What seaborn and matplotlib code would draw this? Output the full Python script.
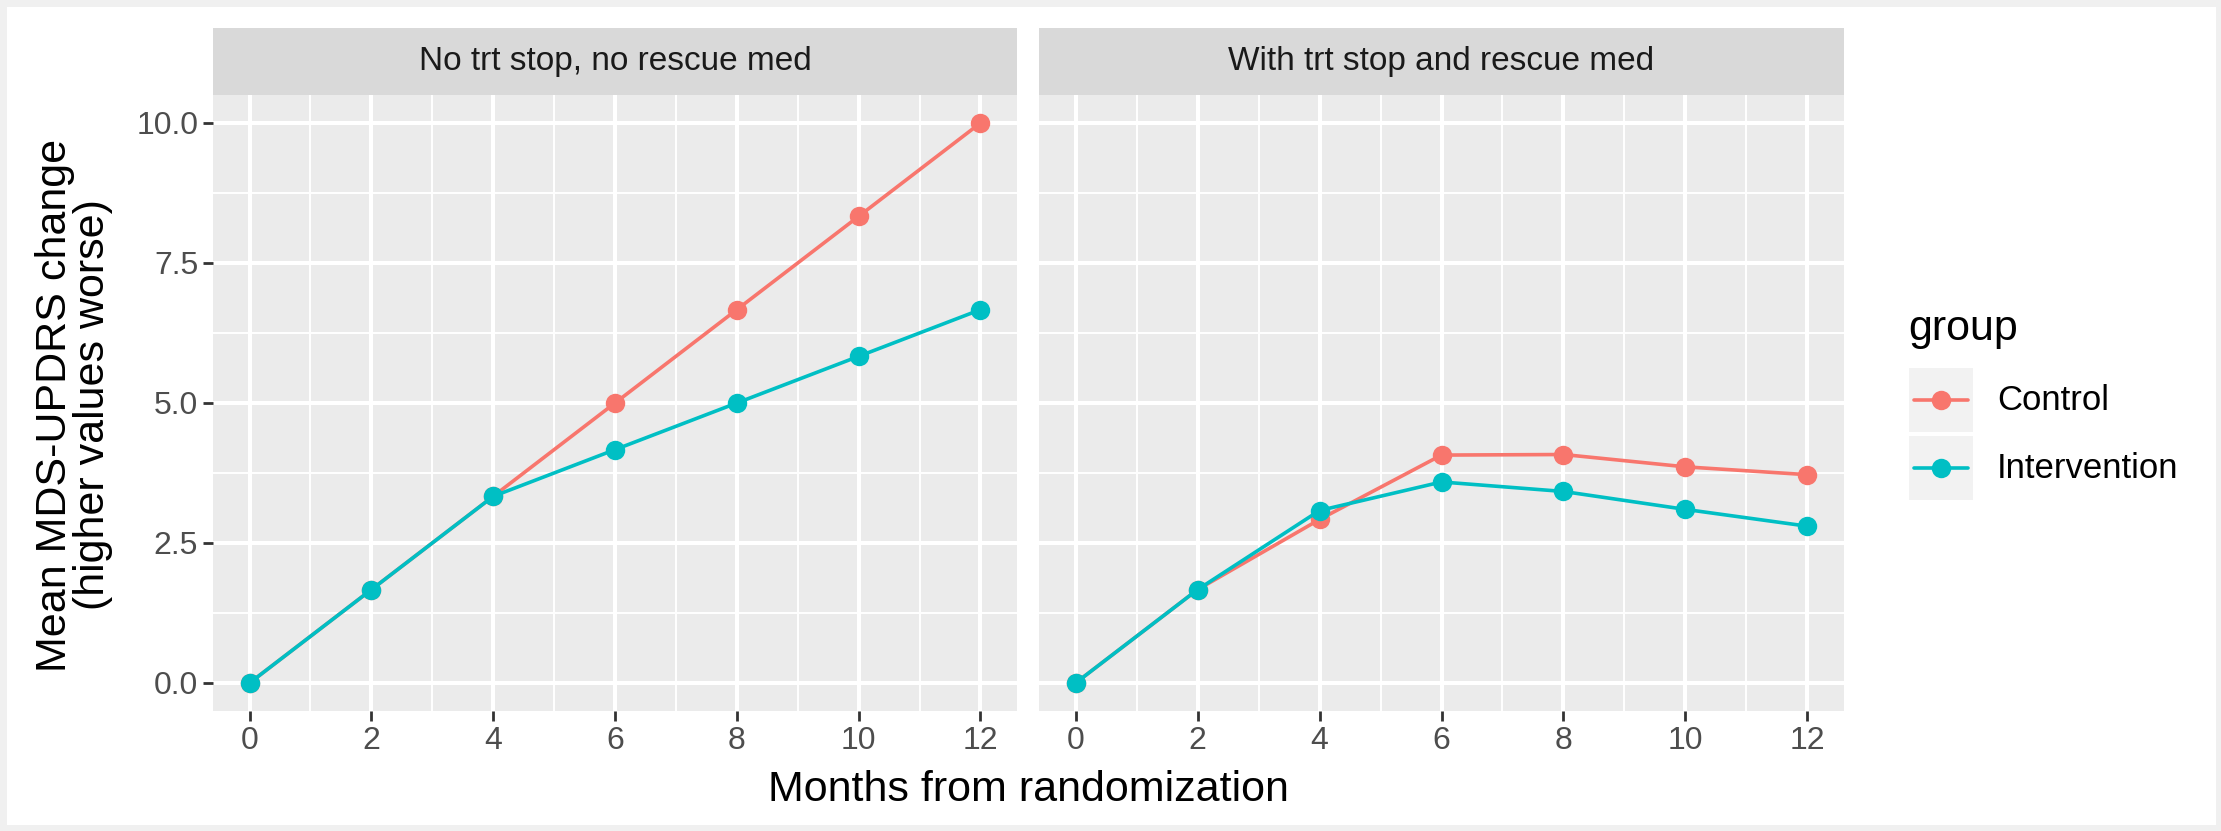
import matplotlib
matplotlib.use("Agg")
import matplotlib.pyplot as plt
from matplotlib import font_manager
from matplotlib.patches import Rectangle
from matplotlib.lines import Line2D
import numpy as np
import pandas as pd
import seaborn as sns

# ---------------- data ----------------
months = [0, 2, 4, 6, 8, 10, 12]
facets = ["No trt stop, no rescue med", "With trt stop and rescue med"]
groups = ["Control", "Intervention"]
ctrl_no_stop = [0.0, 1.667, 3.333, 5.0, 6.667, 8.333, 10.0]
intv_no_stop = [0.0, 1.667, 3.333, 4.167, 5.0, 5.833, 6.667]
ctrl_stop = [0.0, 1.667, 2.92, 4.07, 4.08, 3.86, 3.72]
intv_stop = [0.0, 1.667, 3.08, 3.59, 3.42, 3.10, 2.80]
x_ticks = [0, 2, 4, 6, 8, 10, 12]
y_ticks = [0.0, 2.5, 5.0, 7.5, 10.0]
y_tick_labels = ["0.0", "2.5", "5.0", "7.5", "10.0"]
x_label = "Months from randomization"
y_label = "Mean MDS-UPDRS change\n(higher values worse)"
legend_title = "group"

rows = []
for facet, series in zip(facets, [(ctrl_no_stop, intv_no_stop), (ctrl_stop, intv_stop)]):
    for g, vals in zip(groups, series):
        for m, v in zip(months, vals):
            rows.append({"facet": facet, "group": g, "month": m, "value": v})
df = pd.DataFrame(rows)

palette = {"Control": "#F8766D", "Intervention": "#00BFC4"}

# ---------------- fonts ----------------
sns.set_theme(style="white")


def has_font(name):
    try:
        font_manager.findfont(font_manager.FontProperties(family=name), fallback_to_default=False)
        return True
    except Exception:
        return False


main_font = "Liberation Sans" if has_font("Liberation Sans") else "DejaVu Sans"
plt.rcParams["font.family"] = [main_font, "DejaVu Sans"]
tick_size = 23
strip_size = 24
line_w = 2.6
marker_s = 14

# ---------------- figure ----------------
W, H = 2221, 831
dpi = 100
fig = plt.figure(figsize=(W / dpi, H / dpi), dpi=dpi)
fig.patch.set_facecolor("#F0F0F0")
fig.patches.append(Rectangle((7 / W, 6 / H), (W - 12) / W, (H - 13) / H,
                             transform=fig.transFigure, facecolor="white",
                             edgecolor="none", zorder=-10))


def px_box(x0, y0, x1, y1):
    return [x0 / W, 1 - y1 / H, (x1 - x0) / W, (y1 - y0) / H]


panel_top, panel_bot = 95, 711
strip_top = 28
ax_l = fig.add_axes(px_box(213, panel_top, 1017, panel_bot))
ax_r = fig.add_axes(px_box(1039, panel_top, 1844, panel_bot))

for i, (ax, facet) in enumerate(zip([ax_l, ax_r], facets)):
    ax.set_facecolor("#EBEBEB")
    sub = df[df["facet"] == facet]
    sns.lineplot(data=sub, x="month", y="value", hue="group", hue_order=groups,
                 palette=palette, marker="o", markersize=marker_s, markeredgewidth=0,
                 linewidth=line_w, ax=ax, legend=False, zorder=3)
    ax.set_xlim(-0.6, 12.6)
    ax.set_ylim(-0.5, 10.5)
    ax.set_xticks(x_ticks)
    ax.set_xticks(np.arange(1, 12, 2), minor=True)
    ax.set_yticks(y_ticks)
    ax.set_yticks(np.arange(1.25, 10.0, 2.5), minor=True)
    ax.grid(which="major", color="white", linewidth=2.9, zorder=1)
    ax.grid(which="minor", color="white", linewidth=1.4, zorder=1)
    ax.set_axisbelow(True)
    for s in ax.spines.values():
        s.set_visible(False)
    ax.set_xlabel("")
    ax.set_ylabel("")
    ax.tick_params(axis="both", which="major", length=7.2, width=2.0,
                   color="#333333", labelcolor="#4D4D4D", labelsize=tick_size,
                   bottom=True, left=(i == 0), pad=3.5)
    ax.tick_params(axis="both", which="minor", length=0)
    if i == 0:
        ax.set_yticklabels(y_tick_labels)
    else:
        ax.tick_params(axis="y", labelleft=False, left=False)
    # strip
    strip_h = (panel_top - strip_top) / (panel_bot - panel_top)
    ax.add_patch(Rectangle((0, 1), 1, strip_h, transform=ax.transAxes,
                           facecolor="#D9D9D9", edgecolor="none", clip_on=False))
    ax.text(0.5, 1 + strip_h / 2, facet, transform=ax.transAxes, ha="center",
            va="center", fontsize=strip_size, color="#1A1A1A")

# axis titles
fig.text(1028 / W, 1 - 790 / H, x_label, ha="center", va="center", fontsize=31,
         color="black")
fig.text(74 / W, 1 - 405 / H, y_label, ha="center", va="center", fontsize=31,
         rotation=90, color="black", linespacing=0.95, multialignment="center")

# legend
fig.text(1908 / W, 1 - 340 / H, legend_title, ha="left", va="baseline",
         fontsize=31, color="black")
for j, g in enumerate(groups):
    y0 = 368 + j * 68
    fig.patches.append(Rectangle((1909 / W, 1 - (y0 + 64) / H), 64 / W, 64 / H,
                                 transform=fig.transFigure, facecolor="#F2F2F2",
                                 edgecolor="none", zorder=1))
    yc = 1 - (y0 + 32) / H
    fig.lines.append(Line2D([1914 / W, 1968 / W], [yc, yc], transform=fig.transFigure,
                            color=palette[g], linewidth=line_w, zorder=2))
    fig.lines.append(Line2D([1941 / W], [yc], transform=fig.transFigure,
                            color=palette[g], marker="o", markersize=marker_s,
                            markeredgewidth=0, linestyle="none", zorder=3))
    fig.text(1997 / W, yc, g, ha="left", va="center", fontsize=25, color="black")

fig.savefig("out.png", dpi=dpi, facecolor=fig.get_facecolor())
